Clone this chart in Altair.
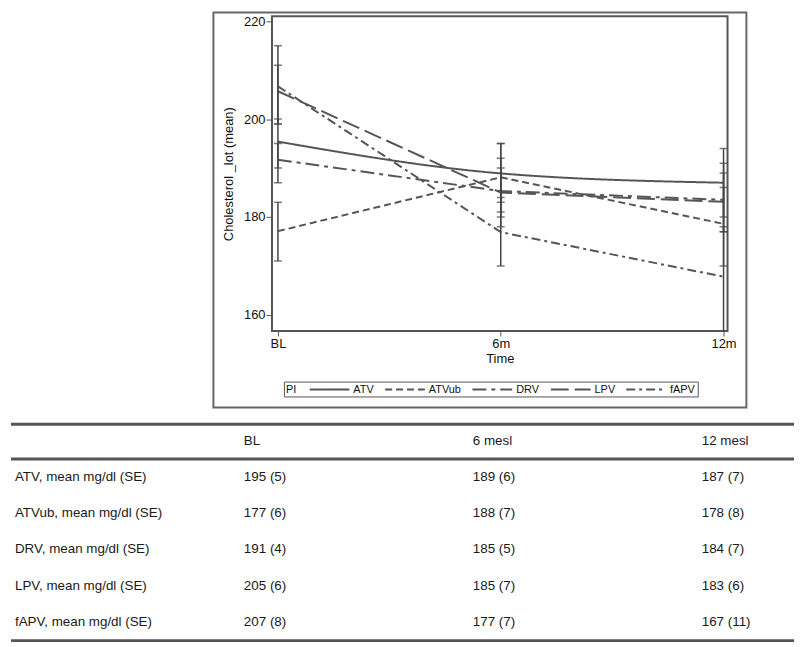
import altair as alt
import pandas as pd

# ---------------- data ----------------
SERIES = ["ATV", "ATVub", "DRV", "LPV", "fAPV"]
TIMES = [0, 6, 12]
TIME_LABELS = ["BL", "6m", "12m"]

# plotted means
LINE_ATV = [195.4, 188.9, 187.0]
LINE_ATVUB = [177.1, 188.1, 178.6]
LINE_DRV = [191.7, 185.3, 183.5]
LINE_LPV = [205.7, 185.0, 183.1]
LINE_FAPV = [206.7, 176.9, 167.8]

# table values: mean and SE
MEAN_ATV = [195, 189, 187]
MEAN_ATVUB = [177, 188, 178]
MEAN_DRV = [191, 185, 184]
MEAN_LPV = [205, 185, 183]
MEAN_FAPV = [207, 177, 167]

SE_ATV = [5, 6, 7]
SE_ATVUB = [6, 7, 8]
SE_DRV = [4, 5, 7]
SE_LPV = [6, 7, 6]
SE_FAPV = [8, 7, 11]

TABLE_COLS = ["label", "BL", "6 mesl", "12 mesl"]
HEADER = ["", "BL", "6 mesl", "12 mesl"]
ROW_SUFFIX = ", mean mg/dl (SE)"

Y_TICKS = [160, 180, 200, 220]

# ---------------- frames ----------------
lines_by = dict(zip(SERIES, [LINE_ATV, LINE_ATVUB, LINE_DRV, LINE_LPV, LINE_FAPV]))
means_by = dict(zip(SERIES, [MEAN_ATV, MEAN_ATVUB, MEAN_DRV, MEAN_LPV, MEAN_FAPV]))
se_by = dict(zip(SERIES, [SE_ATV, SE_ATVUB, SE_DRV, SE_LPV, SE_FAPV]))

line_rows, err_rows = [], []
for s in SERIES:
    for i, t in enumerate(TIMES):
        line_rows.append({"series": s, "t": t, "v": lines_by[s][i]})
        m, e = means_by[s][i], se_by[s][i]
        err_rows.append({"series": s, "t": t, "lo": m - e, "hi": m + e})
line_df = pd.DataFrame(line_rows)
err_df = pd.DataFrame(err_rows)
cap_df = pd.concat([
    err_df[["t", "lo"]].rename(columns={"lo": "y"}),
    err_df[["t", "hi"]].rename(columns={"hi": "y"}),
])

ROWS = ["h"] + SERIES
tab_rows = []
for c, h in zip(TABLE_COLS, HEADER):
    tab_rows.append({"row": "h", "col": c, "txt": h})
for s in SERIES:
    tab_rows.append({"row": s, "col": "label", "txt": s + ROW_SUFFIX})
    for i, c in enumerate(TABLE_COLS[1:]):
        tab_rows.append({"row": s, "col": c, "txt": f"{means_by[s][i]} ({se_by[s][i]})"})
tab_df = pd.DataFrame(tab_rows)

# ---------------- plot ----------------
GRAY = "#555555"
FONT = "Liberation Sans"
PW, PH = 459, 317

label_expr = " : ".join(
    [f"datum.value == {t} ? '{l}'" for t, l in zip(TIMES[:-1], TIME_LABELS[:-1])]
) + f" : '{TIME_LABELS[-1]}'"

x_enc = alt.X(
    "t:Q",
    scale=alt.Scale(domain=[-0.16, 12.107], nice=False, zero=False),
    axis=alt.Axis(values=TIMES, labelExpr=label_expr, title="Time", grid=False,
                  domain=False, tickColor="#555", tickSize=5, labelFontSize=13,
                  labelColor="#111", titleFontSize=13, titleFontWeight="normal",
                  titleColor="#111", labelPadding=2, titlePadding=2),
)
y_scale = alt.Scale(domain=[156.7, 221.0], nice=False, zero=False)
y_axis = alt.Axis(values=Y_TICKS, title="Cholesterol _lot (mean)", grid=False,
                  domain=False, tickColor="#555", tickSize=6, labelFontSize=13,
                  labelColor="#111", titleFontSize=13, titleFontWeight="normal",
                  titleColor="#111", labelPadding=1, titlePadding=8)

dash_enc = alt.StrokeDash(
    "series:N",
    scale=alt.Scale(domain=SERIES,
                    range=[[1, 0], [7, 4], [14, 5, 4, 5], [18, 6], [9, 4, 3, 4]]),
    legend=alt.Legend(title="PI", orient="none", legendX=275, legendY=368,
                      direction="horizontal", columns=5, titleOrient="left",
                      titleAnchor="middle", titleBaseline="middle",
                      symbolType="M-1,0H7", symbolSize=100, symbolStrokeWidth=2,
                      symbolStrokeColor=GRAY, labelFontSize=11, labelColor="#111",
                      titleFontSize=11, titleFontWeight="normal", titleColor="#111",
                      titlePadding=12, columnPadding=7, labelOffset=33,
                      strokeColor="#555", padding=2),
)

base_line = alt.Chart(line_df)
line_atv = base_line.transform_filter(alt.datum.series == "ATV").mark_line(
    color=GRAY, strokeWidth=2, interpolate="monotone"
).encode(x=x_enc, y=alt.Y("v:Q", scale=y_scale, axis=y_axis), strokeDash=dash_enc)
line_rest = base_line.transform_filter(alt.datum.series != "ATV").mark_line(
    color=GRAY, strokeWidth=2
).encode(x=x_enc, y=alt.Y("v:Q", scale=y_scale, axis=y_axis), strokeDash=dash_enc,
         detail="series:N")

err_rule = alt.Chart(err_df).mark_rule(color="#444", strokeWidth=1.5, clip=True).encode(
    x=x_enc, y=alt.Y("lo:Q", scale=y_scale, axis=y_axis), y2="hi:Q")
err_cap = alt.Chart(cap_df).mark_tick(color="#444", thickness=1.5, size=8,
                                      orient="horizontal", clip=True).encode(
    x=x_enc, y=alt.Y("y:Q", scale=y_scale, axis=y_axis))

frame_df = pd.DataFrame({"k": [0]})
outer = alt.Chart(frame_df).mark_rect(fill="transparent", stroke="#666",
                                      strokeWidth=2).encode(
    x=alt.value(-59), x2=alt.value(478), y=alt.value(-4), y2=alt.value(394))

plot = alt.layer(outer, line_rest, line_atv, err_rule, err_cap).properties(
    width=PW, height=PH)

spacer = alt.Chart(frame_df).mark_rect(opacity=0).encode(
    x=alt.value(0), x2=alt.value(1), y=alt.value(0), y2=alt.value(1)
).properties(width=201, height=1, view=alt.ViewBackground(stroke="transparent"))

top = alt.hconcat(spacer, plot, spacing=0)

# ---------------- table ----------------
TW, TH = 789, 220
tab_text = alt.Chart(tab_df).mark_text(align="left", baseline="middle", fontSize=13.5,
                                       color="#1a1a1a", font=FONT).encode(
    x=alt.X("col:N", scale=alt.Scale(type="point", domain=TABLE_COLS,
                                     range=[4, 696], padding=0), axis=None),
    y=alt.Y("row:N", scale=alt.Scale(type="point", domain=ROWS,
                                     range=[17, 199], padding=0), axis=None),
    text="txt:N",
)
rule_df = pd.DataFrame({"k": [0]})
rule_layers = [
    alt.Chart(rule_df).mark_rule(color="#555", strokeWidth=3).encode(
        x=alt.value(0), x2=alt.value(TW), y=alt.value(yy))
    for yy in (0, 35, 218)
]
table = alt.layer(*rule_layers, tab_text).properties(
    width=TW, height=TH, view=alt.ViewBackground(stroke="transparent"))

chart = alt.vconcat(top, table, spacing=12).properties(
    padding={"left": 0, "top": 0, "right": 0, "bottom": 0}
).configure(font=FONT).configure_view(stroke="#555", strokeWidth=2)

chart.save("out.html", embed_options={"renderer": "svg", "actions": False})
